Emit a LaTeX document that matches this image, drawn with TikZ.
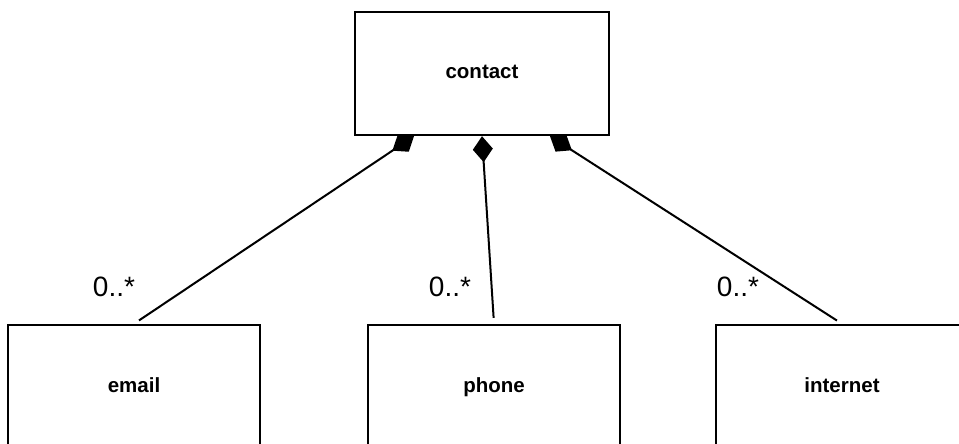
\documentclass[tikz,border=0pt]{standalone}
\usepackage{fontspec}
\setmainfont{Liberation Sans}
\usetikzlibrary{arrows.meta, backgrounds}

\begin{document}
\begin{tikzpicture}[
    x=1pt, y=-1pt,
    umlbox/.style={rectangle, draw=black, line width=2.4pt, fill=white, minimum width=252pt, minimum height=123pt, inner sep=0pt, text height=15pt, text depth=4pt, font=\fontsize{20.5}{24}\selectfont\bfseries},
    mult/.style={font=\fontsize{28}{32}\selectfont, inner sep=0pt},
    comp/.style={line width=2pt, -{Diamond[length=26pt,width=20pt]}, shorten <=6pt},
]
\useasboundingbox (0,0) rectangle (959,444);

\node[umlbox, minimum width=254pt] (contact) at (482,73.5) {contact};
\node[umlbox] (email) at (134,386.5) {email};
\node[umlbox] (phone) at (494,386.5) {phone};
\node[umlbox] (internet) at (842,386.5) {internet};

\node[mult] (multemail) at (114,287) {0..*};
\node[mult] (multphone) at (450,287) {0..*};
\node[mult] (multinternet) at (738,287) {0..*};

\begin{pgfonlayer}{background}
\draw[comp] (email.north) -- ([xshift=-68pt]contact.south);
\draw[comp] (phone.north) -- (contact.south);
\draw[comp] (internet.north) -- ([xshift=68pt]contact.south);
\end{pgfonlayer}
\end{tikzpicture}
\end{document}
